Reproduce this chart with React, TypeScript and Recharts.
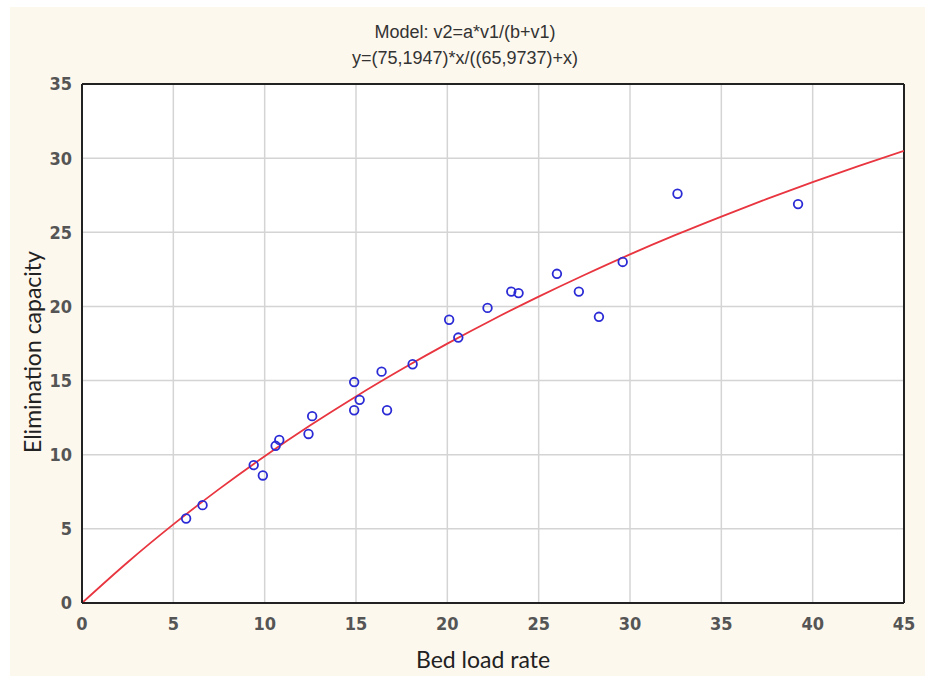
import React from 'react';
import {
  ComposedChart,
  Scatter,
  Line,
  XAxis,
  YAxis,
  CartesianGrid,
  ReferenceLine,
} from 'recharts';

const bedLoadRate = [5.7, 6.6, 9.4, 9.9, 10.6, 10.8, 12.4, 12.6, 14.9, 14.9, 15.2, 16.4, 16.7, 18.1, 20.1, 20.6, 22.2, 23.5, 23.9, 26.0, 27.2, 28.3, 29.6, 32.6, 39.2];
const eliminationCapacity = [5.7, 6.6, 9.3, 8.6, 10.6, 11.0, 11.4, 12.6, 14.9, 13.0, 13.7, 15.6, 13.0, 16.1, 19.1, 17.9, 19.9, 21.0, 20.9, 22.2, 21.0, 19.3, 23.0, 27.6, 26.9];

// Fitted curve values
const curveX = [0, 2.5, 5, 7.5, 10, 12.5, 15, 17.5, 20, 22.5, 25, 27.5, 30, 32.5, 35, 37.5, 40, 42.5, 45];
const curveY = [0, 2.75, 5.3, 7.68, 9.9, 11.98, 13.93, 15.76, 17.49, 19.12, 20.66, 22.12, 23.51, 24.82, 26.06, 27.25, 28.38, 29.46, 30.49];

const xTicks = [0, 5, 10, 15, 20, 25, 30, 35, 40, 45];
const yTicks = [0, 5, 10, 15, 20, 25, 30, 35];

const titleLine1 = 'Model: v2=a*v1/(b+v1)';
const titleLine2 = 'y=(75,1947)*x/((65,9737)+x)';
const xLabel = 'Bed load rate';
const yLabel = 'Elimination capacity';

const points = bedLoadRate.map((x, i) => ({ x, y: eliminationCapacity[i] }));
const curve = curveX.map((x, i) => ({ x, fit: curveY[i] }));

const tickStyle = {
  fontFamily: '"DejaVu Sans Condensed", "DejaVu Sans", sans-serif',
  fontSize: 18,
  fontWeight: 'bold',
  fill: '#555555',
};

const OpenCircle = (props: any) => {
  const { cx, cy } = props;
  if (cx == null || cy == null) return null;
  return <circle cx={cx} cy={cy} r={4.3} fill="none" stroke="#2b2bd6" strokeWidth={1.8} />;
};

export default function App() {
  return (
    <div style={{ position: 'absolute', left: 0, top: 0, width: 925, height: 676, background: '#ffffff', overflow: 'hidden' }}>
      <div style={{ position: 'absolute', left: 10, top: 7, width: 915, height: 669, background: '#fdf8ee' }} />
      <div style={{ position: 'absolute', left: 0, top: 0 }}>
        <ComposedChart width={925} height={676} margin={{ top: 84, right: 21, bottom: 43, left: 32 }}>
          <CartesianGrid stroke="#d4d4d4" strokeWidth={1.5} fill="#ffffff" fillOpacity={1} horizontalValues={yTicks} verticalValues={xTicks} />
          <XAxis
            type="number"
            dataKey="x"
            domain={[0, 45]}
            ticks={xTicks}
            allowDataOverflow
            height={30}
            axisLine={{ stroke: '#222', strokeWidth: 2 }}
            tickLine={false}
            tickSize={6}
            tickMargin={8}
            tick={tickStyle}
          />
          <YAxis
            type="number"
            dataKey="y"
            domain={[0, 35]}
            ticks={yTicks}
            allowDataOverflow
            width={50}
            axisLine={{ stroke: '#222', strokeWidth: 2 }}
            tickLine={false}
            tickSize={4}
            tickMargin={6}
            tick={tickStyle}
          />
          <ReferenceLine y={35} stroke="#222" strokeWidth={2} />
          <ReferenceLine x={45} stroke="#222" strokeWidth={2} />
          <Line
            data={curve}
            dataKey="fit"
            type="monotone"
            stroke="#e8353f"
            strokeWidth={1.8}
            dot={false}
            isAnimationActive={false}
          />
          <Scatter data={points} dataKey="y" shape={OpenCircle} isAnimationActive={false} />
        </ComposedChart>
      </div>
      <div style={{ position: 'absolute', left: 265, width: 400, top: 19, textAlign: 'center', fontFamily: '"Liberation Sans", Arial, sans-serif', fontSize: 18, color: '#333', lineHeight: '26px' }}>
        <div>{titleLine1}</div>
        <div>{titleLine2}</div>
      </div>
      <div style={{ position: 'absolute', left: 283, width: 400, top: 645, textAlign: 'center', fontFamily: 'Lato, "Open Sans", sans-serif', fontSize: 23, color: '#222' }}>
        {xLabel}
      </div>
      <div style={{ position: 'absolute', left: 32, top: 352, width: 0, height: 0 }}>
        <div style={{ position: 'absolute', left: -150, top: -15, width: 300, height: 30, lineHeight: '30px', textAlign: 'center', transform: 'rotate(-90deg)', fontFamily: 'Lato, "Open Sans", sans-serif', fontSize: 23, color: '#222', whiteSpace: 'nowrap' }}>
          {yLabel}
        </div>
      </div>
    </div>
  );
}
